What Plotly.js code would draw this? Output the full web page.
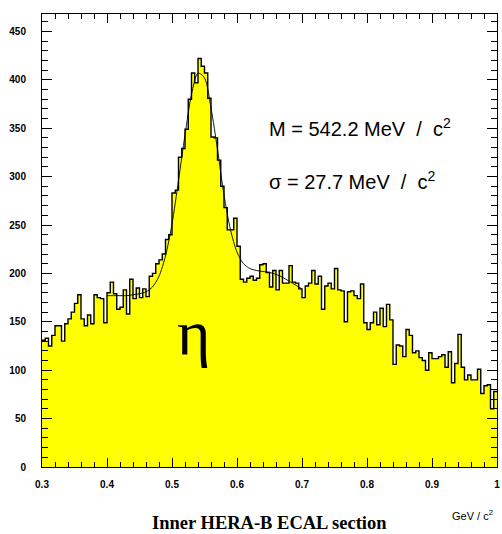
<!DOCTYPE html>
<html>
<head>
<meta charset="utf-8">
<script src="https://cdn.plot.ly/plotly-3.0.1.min.js"></script>
<style>
  html, body { margin: 0; padding: 0; background: #fff; }
  #chart { width: 502px; height: 534px; }
</style>
</head>
<body>
<div id="chart"></div>
<script>
// Two-photon invariant mass, 0.3 - 1.0 GeV/c^2, 5 MeV bins
const binStart = 0.3;
const binWidth = 0.005;
const counts = [
  131, 133, 125, 136, 146, 146, 130, 148, 153, 160,
  169, 178, 153, 146, 157, 148, 178, 175, 174, 149,
  180, 191, 179, 163, 165, 183, 158, 194, 174, 185,
  175, 184, 176, 197, 200, 210, 214, 220, 235, 240,
  283, 286, 320, 329, 349, 380, 407, 397, 422, 414,
  407, 381, 341, 340, 317, 290, 268, 245, 245, 257,
  228, 194, 191, 195, 197, 193, 195, 209, 210, 201,
  186, 203, 183, 203, 190, 190, 208, 191, 190, 184,
  175, 187, 190, 203, 189, 197, 163, 187, 190, 184,
  205, 183, 182, 150, 181, 182, 177, 174, 189, 149,
  142, 149, 160, 147, 164, 145, 168, 152, 106, 126,
  125, 114, 142, 136, 118, 120, 113, 110, 100, 118,
  112, 112, 114, 116, 103, 119, 87, 107, 137, 103,
  90, 95, 90, 90, 101, 76, 84, 85, 60, 78
];

// Fitted signal + background curve (0.4 - 0.7 GeV/c^2)
const fitMass = [
  0.40, 0.41, 0.42, 0.43, 0.44, 0.45, 0.46, 0.47, 0.48, 0.49,
  0.50, 0.51, 0.52, 0.53, 0.54, 0.55, 0.56, 0.57, 0.58, 0.59,
  0.60, 0.61, 0.62, 0.63, 0.64, 0.65, 0.66, 0.67, 0.68, 0.69, 0.70
];
const fitValue = [
  177, 177, 177, 177, 178, 179, 181, 186, 197, 218,
  251, 296, 343, 385, 407, 402, 371, 328, 281, 245,
  222, 210, 205, 203, 202, 201, 199, 196, 192, 188, 184
];

const yTickVals = [0, 50, 100, 150, 200, 250, 300, 350, 400, 450];
const xTickVals = [0.3, 0.4, 0.5, 0.6, 0.7, 0.8, 0.9, 1.0];
const xTickText = ['0.3', '0.4', '0.5', '0.6', '0.7', '0.8', '0.9', '1'];

// step outline: left edge of every bin, plus the closing right edge
const edges = counts.map((_, i) => +(binStart + i * binWidth).toFixed(4));
const stepX = edges.concat([+(binStart + counts.length * binWidth).toFixed(4)]);
const stepY = counts.concat([counts[counts.length - 1]]);

const hist = {
  x: stepX, y: stepY,
  type: 'scatter', mode: 'lines',
  line: { shape: 'hv', color: '#000', width: 1.4 },
  fill: 'tozeroy', fillcolor: '#ffff00',
  hoverinfo: 'skip'
};

const fit = {
  x: fitMass, y: fitValue,
  type: 'scatter', mode: 'lines',
  line: { shape: 'spline', smoothing: 0.8, color: '#000', width: 0.9 },
  hoverinfo: 'skip'
};

const tickFont = { family: 'Liberation Sans, Arial, sans-serif', size: 10, color: '#000', weight: 'bold' };
const sans = 'Liberation Sans, Arial, sans-serif';
const serif = 'Liberation Serif, Times New Roman, serif';

const layout = {
  width: 502, height: 534,
  margin: { l: 42, r: 5, t: 14, b: 67 },
  paper_bgcolor: '#fff', plot_bgcolor: '#fff',
  showlegend: false,
  xaxis: {
    range: [0.3, 1.0],
    tickvals: xTickVals, ticktext: xTickText,
    ticks: 'inside', ticklen: 9, tickwidth: 1, tickcolor: '#000',
    minor: { dtick: 0.02, tick0: 0.3, ticks: 'inside', ticklen: 5, tickwidth: 1, tickcolor: '#000' },
    showline: true, linecolor: '#000', linewidth: 1, mirror: 'ticks',
    showgrid: false, zeroline: false,
    tickfont: tickFont, ticklabelstandoff: 8
  },
  yaxis: {
    range: [0, 468],
    tickvals: yTickVals,
    ticks: 'inside', ticklen: 10, tickwidth: 1, tickcolor: '#000',
    minor: { dtick: 10, tick0: 0, ticks: 'inside', ticklen: 6, tickwidth: 1, tickcolor: '#000' },
    showline: true, linecolor: '#000', linewidth: 1, mirror: 'ticks',
    showgrid: false, zeroline: false,
    tickfont: tickFont, ticklabelstandoff: 13
  },
  annotations: [
    {
      text: 'M&nbsp;=&nbsp;542.2&nbsp;MeV&nbsp;&nbsp;/&nbsp;&nbsp;c<sup>2</sup>',
      xref: 'paper', yref: 'paper', x: 0.495, y: 0.749,
      xanchor: 'left', yanchor: 'middle', showarrow: false,
      font: { family: sans, size: 20, color: '#000' }
    },
    {
      text: 'σ&nbsp;=&nbsp;27.7&nbsp;MeV&nbsp;&nbsp;/&nbsp;&nbsp;c<sup>2</sup>',
      xref: 'paper', yref: 'paper', x: 0.495, y: 0.632,
      xanchor: 'left', yanchor: 'middle', showarrow: false,
      font: { family: sans, size: 20, color: '#000' }
    },
    {
      text: 'η',
      xref: 'paper', yref: 'paper', x: 0.332, y: 0.298,
      xanchor: 'center', yanchor: 'middle', showarrow: false,
      font: { family: serif, size: 64, color: '#000' }
    },
    {
      text: 'GeV / c<sup>2</sup>',
      xref: 'paper', yref: 'paper', x: 0.996, y: -0.105,
      xanchor: 'right', yanchor: 'middle', showarrow: false,
      font: { family: sans, size: 11, color: '#000' }
    },
    {
      text: '<b>Inner HERA-B ECAL section</b>',
      xref: 'paper', yref: 'paper', x: 0.501, y: -0.123,
      xanchor: 'center', yanchor: 'middle', showarrow: false,
      font: { family: serif, size: 18.5, color: '#000' }
    }
  ]
};

Plotly.newPlot('chart', [hist, fit], layout, { staticPlot: true, displayModeBar: false });
</script>
</body>
</html>
